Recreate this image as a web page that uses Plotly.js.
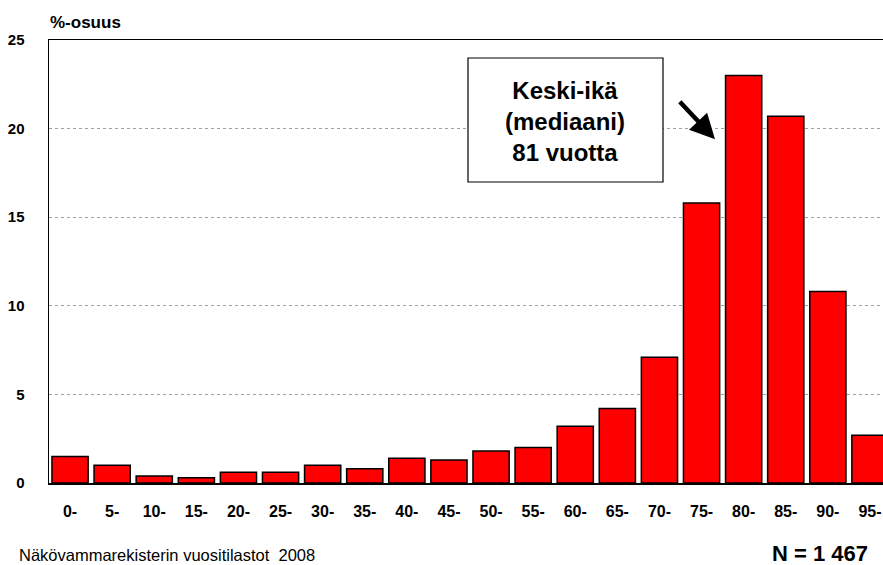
<!DOCTYPE html>
<html>
<head>
<meta charset="utf-8">
<script src="https://cdn.plot.ly/plotly-3.0.1.min.js"></script>
<style>html,body{margin:0;padding:0;background:#fff;}#chart{width:883px;height:565px;}</style>
</head>
<body>
<div id="chart"></div>
<script>
const ageGroups = ["0-","5-","10-","15-","20-","25-","30-","35-","40-","45-","50-","55-","60-","65-","70-","75-","80-","85-","90-","95-"];
const shares = [1.5,1.0,0.4,0.3,0.6,0.6,1.0,0.8,1.4,1.3,1.8,2.0,3.2,4.2,7.1,15.8,23.0,20.7,10.8,2.7];
const yTicks = [0,5,10,15,20,25];
const yAxisTitle = "%-osuus";
const sourceText = "Näkövammarekisterin vuositilastot  2008";
const nText = "N = 1 467";
const medianLines = ["Keski-ikä", "(mediaani)", "81 vuotta"];

const font = "Liberation Sans, Arial, sans-serif";

const trace = {
  type: "bar",
  x: ageGroups.map((_, i) => i),
  y: shares,
  marker: {color: "#ff0000", line: {color: "#000000", width: 1.5}},
  hoverinfo: "skip"
};

const annotations = [
  {xref: "paper", yref: "paper", x: -0.001, y: 1.0, yshift: 18, xanchor: "left", yanchor: "middle",
   text: "<b>" + yAxisTitle + "</b>", showarrow: false, font: {family: font, size: 17, color: "#000"}},
  {xref: "paper", yref: "paper", x: -0.038, y: 0, yshift: -72, xanchor: "left", yanchor: "middle",
   text: sourceText, showarrow: false, font: {family: font, size: 16.5, color: "#000"}},
  {xref: "paper", yref: "paper", x: 0.9845, y: 0, yshift: -70, xanchor: "right", yanchor: "middle",
   text: "<b>" + nText + "</b>", showarrow: false, font: {family: font, size: 22, color: "#000"}},
  {xref: "x", yref: "y", x: 15.32, y: 19.4, axref: "x", ayref: "y", ax: 14.45, ay: 21.6,
   text: "", showarrow: true, arrowhead: 2, arrowsize: 1.1, arrowwidth: 4.5, arrowcolor: "#000"},
  {xref: "paper", yref: "paper", x: 0.6193, y: 0.8149, xanchor: "center", yanchor: "middle",
   text: medianLines.map(t => "<b>" + t + "</b>").join("<br>"), showarrow: false, align: "center",
   font: {family: font, size: 24, color: "#000"}}
];

const layout = {
  width: 883, height: 565,
  margin: {l: 49, r: 0, t: 40, b: 82},
  paper_bgcolor: "#ffffff", plot_bgcolor: "#ffffff",
  showlegend: false,
  bargap: 0.14,
  xaxis: {
    range: [-0.5, 19.31],
    tickvals: ageGroups.map((_, i) => i),
    ticktext: ageGroups.map(s => "<b>" + s + "</b>"),
    ticks: "",
    ticklabelstandoff: 13,
    tickfont: {family: font, size: 16, color: "#000"},
    showgrid: false, zeroline: false,
    showline: true, linecolor: "#000", linewidth: 1.5, mirror: true
  },
  yaxis: {
    range: [0, 25],
    tickvals: yTicks,
    ticktext: yTicks.map(v => "<b>" + v + "</b>"),
    ticks: "",
    ticklabelstandoff: 20,
    tickfont: {family: font, size: 15, color: "#000"},
    showgrid: true, gridcolor: "#a0a0a0", griddash: "dot", gridwidth: 1,
    zeroline: false,
    showline: true, linecolor: "#000", linewidth: 1.5, mirror: true
  },
  shapes: [
    {type: "rect", xref: "paper", yref: "paper", x0: 0.5024, x1: 0.7362, y0: 0.6795, y1: 0.9594,
     line: {color: "#000", width: 1.2}, fillcolor: "#ffffff", layer: "above"}
  ],
  annotations: annotations
};

Plotly.newPlot("chart", [trace], layout, {displayModeBar: false, staticPlot: true});
</script>
</body>
</html>
